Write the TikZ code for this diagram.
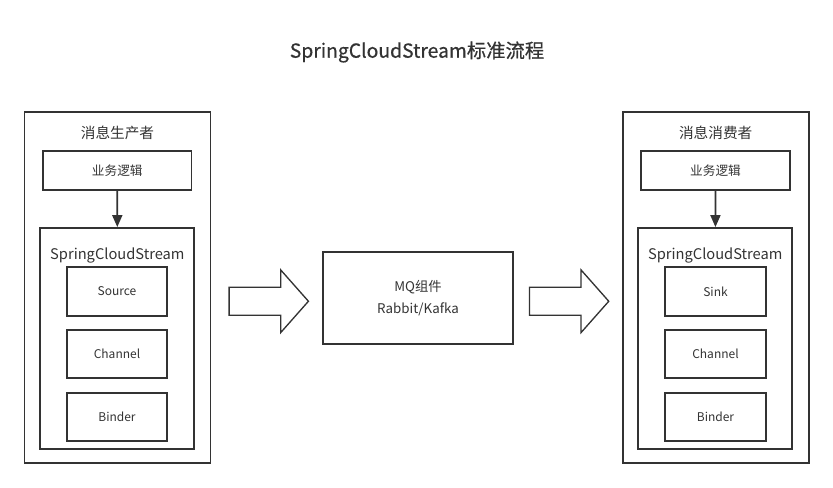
\documentclass[tikz,border=0pt]{standalone}
\usepackage{fontspec}
\setmainfont{Noto Sans CJK SC}
\newfontfamily\titlefont[FakeBold=0.6]{Noto Sans CJK SC}
\usetikzlibrary{arrows.meta,shapes.arrows,calc}
\definecolor{ink}{HTML}{333333}
\tikzset{
    panel/.style = {draw=ink, line width=1.4pt, rectangle, inner sep=0pt,
        minimum width=139.5pt, minimum height=263pt},
    logic/.style = {draw=ink, line width=1.4pt, rectangle, inner sep=0pt,
        minimum width=111.4pt, minimum height=29.25pt, font=\fontsize{9.5pt}{11pt}\selectfont},
    scs/.style = {draw=ink, line width=1.4pt, rectangle, inner sep=0pt,
        minimum width=115.5pt, minimum height=165.75pt},
    block/.style = {draw=ink, line width=1.4pt, rectangle, inner sep=0pt,
        minimum width=75.4pt, minimum height=36.4pt, font=\fontsize{9pt}{11pt}\selectfont},
    mq/.style = {draw=ink, line width=1.4pt, rectangle, inner sep=0pt,
        minimum width=143pt, minimum height=69pt, align=center,
        font=\fontsize{10pt}{16.5pt}\selectfont},
    caption/.style = {inner sep=0pt, font=\fontsize{11pt}{12pt}\selectfont},
    hollow/.style = {draw=ink, line width=1pt, shape=single arrow, inner xsep=0pt,
        inner ysep=10pt, minimum height=59.5pt, single arrow head extend=13pt,
        single arrow tip angle=97, anchor=tail},
    arrow/.style = {draw=ink, line width=1.4pt, -{Triangle[length=9pt,width=7.5pt]}}
}
\begin{document}
\begin{tikzpicture}[x=0.75pt, y=-0.75pt, text=ink]
    \useasboundingbox (0,0) rectangle (833,487);
    \node[inner sep=0pt, font=\fontsize{14.5pt}{16pt}\titlefont] (title) at (417,52) {SpringCloudStream标准流程};
    % producer side
    \node[panel] (prod) at (117.5,287.25) {};
    \node[caption] (prodcap) at (117.5,133) {消息生产者};
    \node[logic] (plogic) at (117.25,170.5) {业务逻辑};
    \node[scs] (pscs) at (117.4,338.5) {};
    \node[caption] (pscscap) at (117.4,255) {SpringCloudStream};
    \node[block] (source) at (117,291.5) {Source};
    \node[block] (pchannel) at (117,354) {Channel};
    \node[block] (pbinder) at (117,417) {Binder};
    \draw[arrow] (plogic) -- (pscs);
    % middleware
    \node[mq] (mq) at (418,298) {MQ组件\\Rabbit/Kafka};
    % consumer side
    \node[panel] (cons) at (715.7,287.25) {};
    \node[caption] (conscap) at (715.7,133) {消息消费者};
    \node[logic] (clogic) at (715.5,170.5) {业务逻辑};
    \node[scs] (cscs) at (715.3,338.5) {};
    \node[caption] (cscscap) at (715.3,255) {SpringCloudStream};
    \node[block] (sink) at (715.5,291.5) {Sink};
    \node[block] (cchannel) at (715.5,354) {Channel};
    \node[block] (cbinder) at (715.5,417) {Binder};
    \draw[arrow] (clogic) -- (cscs);
    % hollow arrows
    \node[hollow] (toMQ) at ($(prod.east)+(17,14)$) {};
    \node[hollow] (fromMQ) at ($(mq.east)+(14.5,3.25)$) {};
\end{tikzpicture}
\end{document}
